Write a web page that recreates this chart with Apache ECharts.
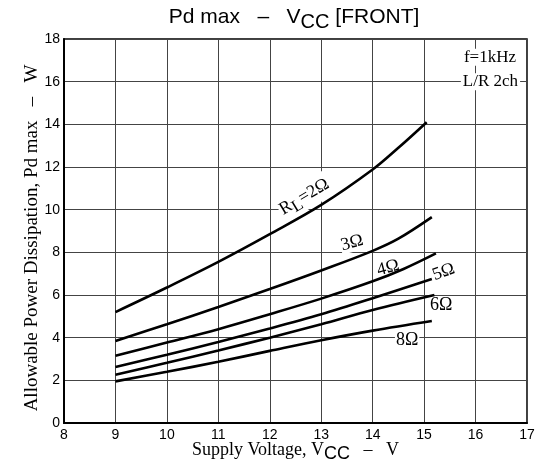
<!DOCTYPE html>
<html>
<head>
<meta charset="utf-8">
<script src="https://cdn.jsdelivr.net/npm/echarts@6/dist/echarts.min.js"></script>
<style>
  html, body { margin: 0; padding: 0; background: #fff; }
  #main { width: 545px; height: 464px; }
</style>
</head>
<body>
<div id="main"></div>
<script>
// Pd max - Vcc, one curve per load resistance
const vcc2 = [9, 10, 11, 12, 13, 14, 14.5, 15.05];
const pd2 = [5.2, 6.35, 7.55, 8.85, 10.22, 11.88, 12.9, 14.1];
const vcc3 = [9, 10, 11, 12, 13, 14, 14.5, 15.15];
const pd3 = [3.84, 4.63, 5.44, 6.28, 7.15, 8.07, 8.64, 9.65];
const vcc4 = [9, 10, 11, 12, 13, 14, 14.6, 15.23];
const pd4 = [3.15, 3.77, 4.4, 5.1, 5.83, 6.64, 7.22, 7.95];
const vcc5 = [9, 10, 11, 12, 13, 14, 15.15];
const pd5 = [2.62, 3.2, 3.8, 4.43, 5.1, 5.85, 6.75];
const vcc6 = [9, 10, 11, 12, 13, 14, 15.2];
const pd6 = [2.26, 2.82, 3.4, 4.0, 4.63, 5.3, 6.0];
const vcc8 = [9, 10, 11, 12, 13, 14, 15.15];
const pd8 = [1.95, 2.4, 2.87, 3.38, 3.88, 4.33, 4.78];

// curve labels: [x, y, text, rotation]
const curveLabels = [
  [12.67, 10.6, '{n|R}{s|L}{n|=2Ω}', 31],
  [13.6, 8.44, '3Ω', 15],
  [14.3, 7.27, '4Ω', 15],
  [15.38, 7.08, '5Ω', 20],
  [15.33, 5.5, '6Ω', 0],
  [14.67, 3.89, '8Ω', 0]
];
const notes = [
  [16.28, 17.15, 'f=1kHz'],
  [16.29, 16.0, 'L/R 2ch']
];

const serif = '"Liberation Serif", "Times New Roman", serif';
const sans = '"Liberation Sans", Arial, sans-serif';

const subRich = {
  n: { fontFamily: serif, fontSize: 18, color: '#000', lineHeight: 26, verticalAlign: 'middle' },
  s: { fontFamily: serif, fontSize: 17, color: '#000', lineHeight: 16, verticalAlign: 'bottom' },
  c: { fontFamily: sans, fontSize: 18, color: '#000', lineHeight: 16, verticalAlign: 'bottom' }
};

function zip(xs, ys) {
  return xs.map((x, i) => [x, ys[i]]);
}

function curve(name, xs, ys) {
  return {
    name: name,
    type: 'line',
    data: zip(xs, ys),
    smooth: 0.35,
    showSymbol: false,
    symbol: 'none',
    lineStyle: { color: '#000', width: 2.6 },
    z: 4
  };
}

const chart = echarts.init(document.getElementById('main'), null, { renderer: 'canvas' });

chart.setOption({
  animation: false,
  backgroundColor: '#fff',
  grid: {
    left: 64, right: 18, top: 39, bottom: 41,
    outerBoundsMode: 'none',
    containLabel: false,
    show: true, borderColor: '#000', borderWidth: 1.5, backgroundColor: 'transparent'
  },
  graphic: [{
    type: 'text',
    x: 294, y: 17,
    style: {
      text: '{n|Pd max   –   V}{s|CC}{n| [FRONT]}',
      textAlign: 'center',
      textVerticalAlign: 'middle',
      rich: {
        n: { fontFamily: sans, fontSize: 21, color: '#000', lineHeight: 30, verticalAlign: 'middle' },
        s: { fontFamily: sans, fontSize: 20, color: '#000', lineHeight: 19, verticalAlign: 'bottom' }
      }
    }
  }],
  xAxis: {
    type: 'value',
    min: 8, max: 17, interval: 1,
    name: '{n|Supply Voltage, V}{c|CC}{n|   –   V}',
    nameLocation: 'middle',
    nameGap: 14,
    nameMoveOverlap: false,
    nameTextStyle: { rich: subRich },
    axisLine: { show: true, lineStyle: { color: '#000', width: 2 } },
    axisTick: { show: false },
    axisLabel: { fontFamily: sans, fontSize: 14, color: '#000', margin: 5 },
    splitLine: { show: true, lineStyle: { color: '#444', width: 1 } }
  },
  yAxis: {
    type: 'value',
    min: 0, max: 18, interval: 2,
    name: 'Allowable Power Dissipation, Pd max   –   W',
    nameLocation: 'middle',
    nameGap: 22,
    nameMoveOverlap: false,
    nameTextStyle: { fontFamily: serif, fontSize: 19, color: '#000', padding: [0, 14, 0, 0] },
    axisLine: { show: true, lineStyle: { color: '#000', width: 2 } },
    axisTick: { show: false },
    axisLabel: { fontFamily: sans, fontSize: 14, color: '#000', margin: 4 },
    splitLine: { show: true, lineStyle: { color: '#444', width: 1 } }
  },
  series: [
    curve('2Ω', vcc2, pd2),
    curve('3Ω', vcc3, pd3),
    curve('4Ω', vcc4, pd4),
    curve('5Ω', vcc5, pd5),
    curve('6Ω', vcc6, pd6),
    curve('8Ω', vcc8, pd8),
    {
      name: 'labels',
      type: 'scatter',
      symbolSize: 0,
      z: 2,
      silent: true,
      itemStyle: { opacity: 1 },
      data: curveLabels.map(d => ({
        value: [d[0], d[1]],
        label: {
          show: true,
          position: 'inside',
          rotate: d[3],
          formatter: d[2],
          fontFamily: serif,
          fontSize: 18,
          color: '#000',
          opacity: 1,
          backgroundColor: '#fff',
          padding: [0, 1],
          rich: subRich
        }
      }))
    },
    {
      name: 'notes',
      type: 'scatter',
      symbolSize: 0,
      z: 2,
      silent: true,
      itemStyle: { opacity: 1 },
      data: notes.map(d => ({
        value: [d[0], d[1]],
        label: {
          show: true,
          position: 'inside',
          formatter: d[2],
          fontFamily: serif,
          fontSize: 17,
          color: '#000',
          opacity: 1,
          backgroundColor: '#fff',
          padding: [0, 2]
        }
      }))
    }
  ]
});
</script>
</body>
</html>
